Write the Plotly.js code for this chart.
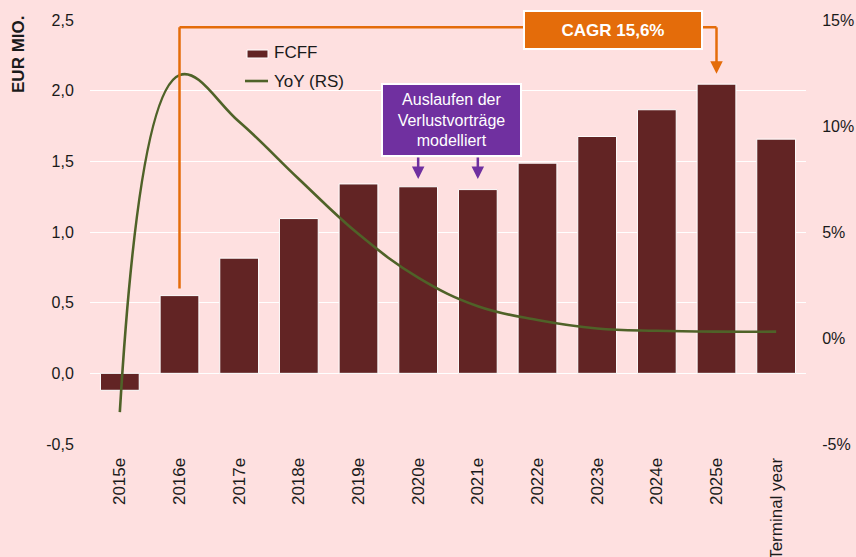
<!DOCTYPE html>
<html>
<head>
<meta charset="utf-8">
<script src="https://cdn.plot.ly/plotly-3.0.1.min.js"></script>
<style>html,body{margin:0;padding:0;background:#fee0e0;}#chart{width:856px;height:557px;}</style>
</head>
<body>
<div id="chart"></div>
<script>
const categories = ["2015e","2016e","2017e","2018e","2019e","2020e","2021e","2022e","2023e","2024e","2025e","Terminal year"];
const fcff = [-0.12, 0.55, 0.815, 1.095, 1.34, 1.32, 1.30, 1.487, 1.676, 1.865, 2.046, 1.657];
const yoyPct = [-3.5, 12.4, 10.2, 7.5, 4.9, 2.85, 1.5, 0.85, 0.45, 0.34, 0.3, 0.3];
const leftTickVals = [-0.5, 0, 0.5, 1, 1.5, 2, 2.5];
const leftTickText = ["-0,5", "0,0", "0,5", "1,0", "1,5", "2,0", "2,5"];
const rightTickVals = [-5, 0, 5, 10, 15];
const rightTickText = ["-5%", "0%", "5%", "10%", "15%"];
const seriesNames = ["FCFF", "YoY (RS)"];

const FONT = "Liberation Sans, Arial, sans-serif";
const ORANGE = "#e46c0a";
const PURPLE = "#7030a0";
const BAR = "#622424";
const LINE = "#4f6228";

const traces = [
  {type:"bar", name:seriesNames[0], x:categories, y:fcff, yaxis:"y",
   marker:{color:BAR, line:{color:"#ffffff", width:1}}},
  {type:"scatter", mode:"lines", name:seriesNames[1], x:categories, y:yoyPct, yaxis:"y2",
   line:{color:LINE, width:2.6, shape:"spline", smoothing:1.15}}
];

const layout = {
  width:856, height:557,
  paper_bgcolor:"#fee0e0", plot_bgcolor:"#fee0e0",
  margin:{l:90, r:50, t:20, b:113},
  font:{family:FONT, size:16, color:"#1a1a1a"},
  bargap:0.35,
  showlegend:false,
  xaxis:{type:"category", tickangle:-90, showgrid:false, zeroline:false, showline:false,
         ticks:"outside", ticklen:6, tickcolor:"rgba(0,0,0,0)", tickfont:{size:17}},
  yaxis:{range:[-0.5,2.5], tickvals:leftTickVals, ticktext:leftTickText, showgrid:true,
         gridcolor:"#ffffff", gridwidth:1, zeroline:false, showline:false,
         ticks:"outside", ticklen:12, tickcolor:"rgba(0,0,0,0)", tickfont:{size:16}},
  yaxis2:{range:[-5,15], overlaying:"y", side:"right", tickvals:rightTickVals, ticktext:rightTickText,
          showgrid:false, zeroline:false, showline:false,
          ticks:"outside", ticklen:12, tickcolor:"rgba(0,0,0,0)", tickfont:{size:16}},
  shapes:[
    {type:"line", xref:"x", yref:"y", x0:1, x1:1, y0:0.6, y1:2.448, line:{color:ORANGE, width:2.5}},
    {type:"line", xref:"x", yref:"y", x0:1, x1:10, y0:2.448, y1:2.448, line:{color:ORANGE, width:2.5}},
    {type:"line", xref:"x", yref:"y", x0:10, x1:10, y0:2.448, y1:2.2, line:{color:ORANGE, width:2.5}},
    {type:"rect", xref:"paper", yref:"paper", x0:0.2193, x1:0.2486, y0:0.9104, y1:0.9292,
     fillcolor:BAR, line:{color:"#ffffff", width:1}},
    {type:"line", xref:"paper", yref:"paper", x0:0.2165, x1:0.2486, y0:0.8561, y1:0.8561,
     line:{color:LINE, width:2.6}}
  ],
  annotations:[
    {xref:"paper", yref:"paper", x:-0.1006, y:0.9198, xanchor:"center", yanchor:"middle",
     text:"<b>EUR MIO.</b>", textangle:-90,
     showarrow:false, font:{family:FONT, size:17, color:"#1a1a1a"}},
    {xref:"paper", yref:"paper", x:0.2542, y:0.9222, xanchor:"left", yanchor:"middle", text:seriesNames[0],
     showarrow:false, font:{family:FONT, size:17, color:"#1a1a1a"}},
    {xref:"paper", yref:"paper", x:0.2542, y:0.8561, xanchor:"left", yanchor:"middle", text:seriesNames[1],
     showarrow:false, font:{family:FONT, size:17, color:"#1a1a1a"}},
    {xref:"x", yref:"y", x:10, y:2.12, ax:0, ay:-14, text:"", showarrow:true,
     arrowhead:2, arrowsize:1, arrowwidth:2.5, arrowcolor:ORANGE},
    {xref:"x", yref:"y", x:8.27, y:2.432, text:"<b>CAGR 15,6%</b>", showarrow:false,
     bgcolor:ORANGE, bordercolor:"#ffffff", borderwidth:2, borderpad:4, width:168, height:28,
     font:{family:FONT, size:17, color:"#ffffff"}},
    {xref:"x", yref:"y", x:5.56, y:1.795, text:"Auslaufen der<br>Verlustvorträge<br>modelliert", showarrow:false,
     bgcolor:PURPLE, bordercolor:"#ffffff", borderwidth:2, borderpad:3, width:131, height:64,
     font:{family:FONT, size:16, color:"#ffffff"}},
    {xref:"x", yref:"y", x:5, y:1.375, ax:0, ay:-23, text:"", showarrow:true,
     arrowhead:2, arrowsize:1, arrowwidth:2.5, arrowcolor:PURPLE},
    {xref:"x", yref:"y", x:6, y:1.375, ax:0, ay:-23, text:"", showarrow:true,
     arrowhead:2, arrowsize:1, arrowwidth:2.5, arrowcolor:PURPLE}
  ]
};

Plotly.newPlot("chart", traces, layout, {displayModeBar:false, staticPlot:true});
</script>
</body>
</html>
